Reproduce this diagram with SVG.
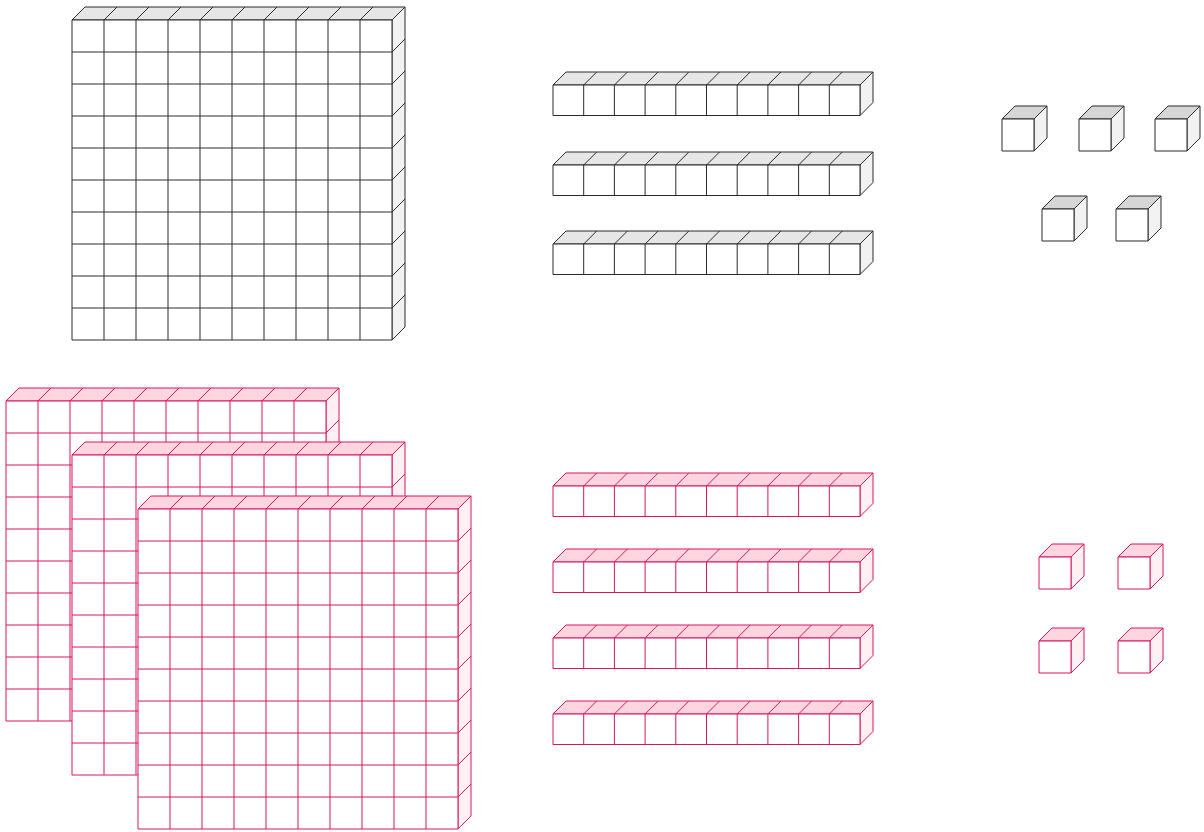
<svg xmlns="http://www.w3.org/2000/svg" width="1204" height="832" viewBox="0 0 1204 832">
<style>
.g{stroke:#2b2b2b;stroke-width:1;stroke-linejoin:round}
.p{stroke:#d8145e;stroke-width:1;stroke-linejoin:round}
.g .top{fill:#e6e6e6}.g .side{fill:#f2f2f2}.g .cubetop{fill:#d6d6d6}
.p .top{fill:#ffd6e0}.p .side{fill:#fff0f3}.p .cubetop{fill:#ffd6e0}
.front{fill:#fff}.ln{fill:none}
</style>
<rect width="1204" height="832" fill="#fff"/>
<g id="gray-flat" class="g" transform="translate(72,20)">
<path class="top" d="M0 0L13 -13H333L320 0Z"/>
<path class="side" d="M320 0L333 -13V307L320 320Z"/>
<rect class="front" x="0" y="0" width="320" height="320"/>
<path class="ln" d="M32 0V320M64 0V320M96 0V320M128 0V320M160 0V320M192 0V320M224 0V320M256 0V320M288 0V320M0 32H320M0 64H320M0 96H320M0 128H320M0 160H320M0 192H320M0 224H320M0 256H320M0 288H320M32 0l13 -13M64 0l13 -13M96 0l13 -13M128 0l13 -13M160 0l13 -13M192 0l13 -13M224 0l13 -13M256 0l13 -13M288 0l13 -13M320 32l13 -13M320 64l13 -13M320 96l13 -13M320 128l13 -13M320 160l13 -13M320 192l13 -13M320 224l13 -13M320 256l13 -13M320 288l13 -13"/>
</g>
<g id="gray-rod-1" class="g" transform="translate(553,85)">
<path class="top" d="M0 0L13 -13H320L307 0Z"/><path class="side" d="M307 0L320 -13V17.5L307 30.5Z"/><rect class="front" width="307" height="30.5"/>
<path class="ln" d="M30.7 30.5V0l13 -13M61.4 30.5V0l13 -13M92.1 30.5V0l13 -13M122.8 30.5V0l13 -13M153.5 30.5V0l13 -13M184.2 30.5V0l13 -13M214.9 30.5V0l13 -13M245.6 30.5V0l13 -13M276.3 30.5V0l13 -13"/>
</g>
<g id="gray-rod-2" class="g" transform="translate(553,165)">
<path class="top" d="M0 0L13 -13H320L307 0Z"/><path class="side" d="M307 0L320 -13V17.5L307 30.5Z"/><rect class="front" width="307" height="30.5"/>
<path class="ln" d="M30.7 30.5V0l13 -13M61.4 30.5V0l13 -13M92.1 30.5V0l13 -13M122.8 30.5V0l13 -13M153.5 30.5V0l13 -13M184.2 30.5V0l13 -13M214.9 30.5V0l13 -13M245.6 30.5V0l13 -13M276.3 30.5V0l13 -13"/>
</g>
<g id="gray-rod-3" class="g" transform="translate(553,244)">
<path class="top" d="M0 0L13 -13H320L307 0Z"/><path class="side" d="M307 0L320 -13V17.5L307 30.5Z"/><rect class="front" width="307" height="30.5"/>
<path class="ln" d="M30.7 30.5V0l13 -13M61.4 30.5V0l13 -13M92.1 30.5V0l13 -13M122.8 30.5V0l13 -13M153.5 30.5V0l13 -13M184.2 30.5V0l13 -13M214.9 30.5V0l13 -13M245.6 30.5V0l13 -13M276.3 30.5V0l13 -13"/>
</g>
<g id="gray-cube-1" class="g" transform="translate(1002,119)"><path class="cubetop" d="M0 0L13 -13H45L32 0Z"/><path class="side" d="M32 0L45 -13V19L32 32Z"/><rect class="front" width="32" height="32"/></g>
<g id="gray-cube-2" class="g" transform="translate(1079,119)"><path class="cubetop" d="M0 0L13 -13H45L32 0Z"/><path class="side" d="M32 0L45 -13V19L32 32Z"/><rect class="front" width="32" height="32"/></g>
<g id="gray-cube-3" class="g" transform="translate(1155,119)"><path class="cubetop" d="M0 0L13 -13H45L32 0Z"/><path class="side" d="M32 0L45 -13V19L32 32Z"/><rect class="front" width="32" height="32"/></g>
<g id="gray-cube-4" class="g" transform="translate(1042,209)"><path class="cubetop" d="M0 0L13 -13H45L32 0Z"/><path class="side" d="M32 0L45 -13V19L32 32Z"/><rect class="front" width="32" height="32"/></g>
<g id="gray-cube-5" class="g" transform="translate(1116,209)"><path class="cubetop" d="M0 0L13 -13H45L32 0Z"/><path class="side" d="M32 0L45 -13V19L32 32Z"/><rect class="front" width="32" height="32"/></g>

<g id="pink-flat-1" class="p" transform="translate(6,401)">
<path class="top" d="M0 0L13 -13H333L320 0Z"/>
<path class="side" d="M320 0L333 -13V307L320 320Z"/>
<rect class="front" x="0" y="0" width="320" height="320"/>
<path class="ln" d="M32 0V320M64 0V320M96 0V320M128 0V320M160 0V320M192 0V320M224 0V320M256 0V320M288 0V320M0 32H320M0 64H320M0 96H320M0 128H320M0 160H320M0 192H320M0 224H320M0 256H320M0 288H320M32 0l13 -13M64 0l13 -13M96 0l13 -13M128 0l13 -13M160 0l13 -13M192 0l13 -13M224 0l13 -13M256 0l13 -13M288 0l13 -13M320 32l13 -13M320 64l13 -13M320 96l13 -13M320 128l13 -13M320 160l13 -13M320 192l13 -13M320 224l13 -13M320 256l13 -13M320 288l13 -13"/>
</g>
<g id="pink-flat-2" class="p" transform="translate(72,455)">
<path class="top" d="M0 0L13 -13H333L320 0Z"/>
<path class="side" d="M320 0L333 -13V307L320 320Z"/>
<rect class="front" x="0" y="0" width="320" height="320"/>
<path class="ln" d="M32 0V320M64 0V320M96 0V320M128 0V320M160 0V320M192 0V320M224 0V320M256 0V320M288 0V320M0 32H320M0 64H320M0 96H320M0 128H320M0 160H320M0 192H320M0 224H320M0 256H320M0 288H320M32 0l13 -13M64 0l13 -13M96 0l13 -13M128 0l13 -13M160 0l13 -13M192 0l13 -13M224 0l13 -13M256 0l13 -13M288 0l13 -13M320 32l13 -13M320 64l13 -13M320 96l13 -13M320 128l13 -13M320 160l13 -13M320 192l13 -13M320 224l13 -13M320 256l13 -13M320 288l13 -13"/>
</g>
<g id="pink-flat-3" class="p" transform="translate(138,509)">
<path class="top" d="M0 0L13 -13H333L320 0Z"/>
<path class="side" d="M320 0L333 -13V307L320 320Z"/>
<rect class="front" x="0" y="0" width="320" height="320"/>
<path class="ln" d="M32 0V320M64 0V320M96 0V320M128 0V320M160 0V320M192 0V320M224 0V320M256 0V320M288 0V320M0 32H320M0 64H320M0 96H320M0 128H320M0 160H320M0 192H320M0 224H320M0 256H320M0 288H320M32 0l13 -13M64 0l13 -13M96 0l13 -13M128 0l13 -13M160 0l13 -13M192 0l13 -13M224 0l13 -13M256 0l13 -13M288 0l13 -13M320 32l13 -13M320 64l13 -13M320 96l13 -13M320 128l13 -13M320 160l13 -13M320 192l13 -13M320 224l13 -13M320 256l13 -13M320 288l13 -13"/>
</g>
<g id="pink-rod-1" class="p" transform="translate(553,486)">
<path class="top" d="M0 0L13 -13H320L307 0Z"/><path class="side" d="M307 0L320 -13V17.5L307 30.5Z"/><rect class="front" width="307" height="30.5"/>
<path class="ln" d="M30.7 30.5V0l13 -13M61.4 30.5V0l13 -13M92.1 30.5V0l13 -13M122.8 30.5V0l13 -13M153.5 30.5V0l13 -13M184.2 30.5V0l13 -13M214.9 30.5V0l13 -13M245.6 30.5V0l13 -13M276.3 30.5V0l13 -13"/>
</g>
<g id="pink-rod-2" class="p" transform="translate(553,562)">
<path class="top" d="M0 0L13 -13H320L307 0Z"/><path class="side" d="M307 0L320 -13V17.5L307 30.5Z"/><rect class="front" width="307" height="30.5"/>
<path class="ln" d="M30.7 30.5V0l13 -13M61.4 30.5V0l13 -13M92.1 30.5V0l13 -13M122.8 30.5V0l13 -13M153.5 30.5V0l13 -13M184.2 30.5V0l13 -13M214.9 30.5V0l13 -13M245.6 30.5V0l13 -13M276.3 30.5V0l13 -13"/>
</g>
<g id="pink-rod-3" class="p" transform="translate(553,638)">
<path class="top" d="M0 0L13 -13H320L307 0Z"/><path class="side" d="M307 0L320 -13V17.5L307 30.5Z"/><rect class="front" width="307" height="30.5"/>
<path class="ln" d="M30.7 30.5V0l13 -13M61.4 30.5V0l13 -13M92.1 30.5V0l13 -13M122.8 30.5V0l13 -13M153.5 30.5V0l13 -13M184.2 30.5V0l13 -13M214.9 30.5V0l13 -13M245.6 30.5V0l13 -13M276.3 30.5V0l13 -13"/>
</g>
<g id="pink-rod-4" class="p" transform="translate(553,714)">
<path class="top" d="M0 0L13 -13H320L307 0Z"/><path class="side" d="M307 0L320 -13V17.5L307 30.5Z"/><rect class="front" width="307" height="30.5"/>
<path class="ln" d="M30.7 30.5V0l13 -13M61.4 30.5V0l13 -13M92.1 30.5V0l13 -13M122.8 30.5V0l13 -13M153.5 30.5V0l13 -13M184.2 30.5V0l13 -13M214.9 30.5V0l13 -13M245.6 30.5V0l13 -13M276.3 30.5V0l13 -13"/>
</g>
<g id="pink-cube-1" class="p" transform="translate(1039,557)"><path class="cubetop" d="M0 0L13 -13H45L32 0Z"/><path class="side" d="M32 0L45 -13V19L32 32Z"/><rect class="front" width="32" height="32"/></g>
<g id="pink-cube-2" class="p" transform="translate(1118,557)"><path class="cubetop" d="M0 0L13 -13H45L32 0Z"/><path class="side" d="M32 0L45 -13V19L32 32Z"/><rect class="front" width="32" height="32"/></g>
<g id="pink-cube-3" class="p" transform="translate(1039,641)"><path class="cubetop" d="M0 0L13 -13H45L32 0Z"/><path class="side" d="M32 0L45 -13V19L32 32Z"/><rect class="front" width="32" height="32"/></g>
<g id="pink-cube-4" class="p" transform="translate(1118,641)"><path class="cubetop" d="M0 0L13 -13H45L32 0Z"/><path class="side" d="M32 0L45 -13V19L32 32Z"/><rect class="front" width="32" height="32"/></g>
<g id="connectors"/>
</svg>
